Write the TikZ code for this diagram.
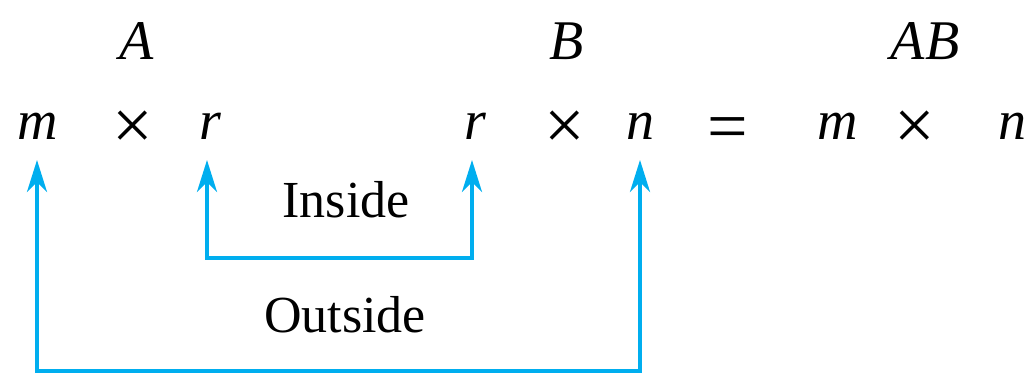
\documentclass[tikz,border=0pt]{standalone}
\usepackage{fontspec}
\setmainfont{Liberation Serif}
\usetikzlibrary{arrows.meta}
\definecolor{arrowblue}{HTML}{00AEEF}
\begin{document}
\begin{tikzpicture}[x=0.5pt,y=-0.5pt,
  sym/.style={anchor=base,inner sep=0pt,font=\fontsize{28}{32}\selectfont\itshape},
  op/.style={anchor=base,inner sep=0pt,font=\fontsize{36}{40}\selectfont},
  lbl/.style={anchor=base,inner sep=0pt,font=\fontsize{26}{30}\selectfont},
  conn/.style={draw=arrowblue,line width=2pt,line join=miter,{Stealth[length=16pt,width=10pt,inset=5pt]}-{Stealth[length=16pt,width=10pt,inset=5pt]}}]
\useasboundingbox (0,0) rectangle (1034,373);
% headers
\node[sym] (A) at (137,60) {A};
\node[sym] (B) at (567,60) {B};
\node[sym] (AB) at (925,60) {AB};
% dims
\node[sym] (m1) at (38,140) {m};
\node[op] (x1) at (133,150) {×};
\node[sym] (r1) at (210,140) {r};
\node[sym] (r2) at (475,140) {r};
\node[op] (x2) at (565,150) {×};
\node[sym] (n1) at (640,140) {n};
\node[op] (eq) at (728,151) {=};
\node[sym] (m2) at (838,140) {m};
\node[op] (x3) at (915,150) {×};
\node[sym] (n2) at (1012,140) {n};
% labels
\node[lbl] (inside) at (346,218) {Inside};
\node[lbl] (outside) at (345,333) {Outside};
% connector corners
\coordinate (ia) at (207,258);
\coordinate (ib) at (472,258);
\coordinate (oa) at (37,371);
\coordinate (ob) at (640,371);
\coordinate (tm) at (37,160);
\coordinate (tr1) at (207,160);
\coordinate (tr2) at (472,160);
\coordinate (tn) at (640,160);
\draw[conn] (tr1) -- (ia) -- (ib) -- (tr2);
\draw[conn] (tm) -- (oa) -- (ob) -- (tn);
\end{tikzpicture}
\end{document}
